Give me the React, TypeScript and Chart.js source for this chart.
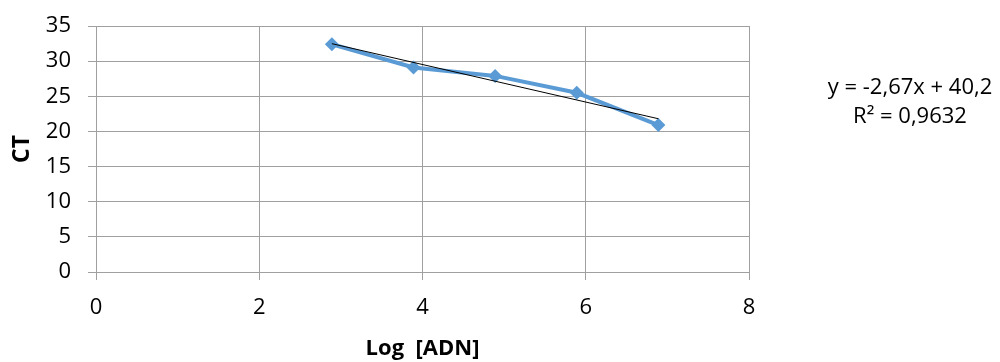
import React, { useEffect, useRef } from "react";
import { Chart, registerables } from "chart.js";

Chart.register(...registerables);

const logADN = [2.89, 3.89, 4.89, 5.89, 6.89];
const ctValues = [32.4, 29.1, 27.9, 25.5, 20.9];
const trendSlope = -2.67;
const trendIntercept = 40.2;
const equationLabel = "y = -2,67x + 40,2";
const r2Label = "R² = 0,9632";
const xTitle = "Log  [ADN]";
const yTitle = "CT";

const FONT = "'Open Sans', 'DejaVu Sans', sans-serif";

const trendPlugin = {
  id: "trendLabel",
  afterDraw(chart: any) {
    const ctx = chart.ctx;
    ctx.save();
    ctx.fillStyle = "#000";
    ctx.font = `22px ${FONT}`;
    ctx.textAlign = "center";
    ctx.textBaseline = "middle";
    ctx.fillText(equationLabel, 910, 88);
    ctx.fillText(r2Label, 910, 117);
    ctx.restore();
  },
};

export default function App() {
  const ref = useRef<HTMLCanvasElement>(null);
  useEffect(() => {
    if (!ref.current) return;
    const x0 = logADN[0];
    const x1 = logADN[logADN.length - 1];
    const chart = new Chart(ref.current, {
      type: "scatter",
      data: {
        datasets: [
          {
            label: "Trend",
            data: [
              { x: x0, y: trendSlope * x0 + trendIntercept },
              { x: x1, y: trendSlope * x1 + trendIntercept },
            ],
            showLine: true,
            borderColor: "#000",
            borderWidth: 1,
            pointRadius: 0,
            order: 0,
          },
          {
            label: "CT",
            data: logADN.map((x, i) => ({ x, y: ctValues[i] })),
            showLine: true,
            borderColor: "#5B9BD5",
            backgroundColor: "#5B9BD5",
            borderWidth: 4,
            pointStyle: "rectRot",
            pointRadius: 7,
            pointBorderWidth: 0,
            order: 1,
          },
        ],
      },
      options: {
        animation: false,
        responsive: false,
        layout: { padding: { top: 26, right: 251, bottom: 0, left: 0 } },
        plugins: { legend: { display: false }, tooltip: { enabled: false } },
        scales: {
          x: {
            type: "linear",
            min: 0,
            max: 8,
            ticks: { stepSize: 2, color: "#000", font: { family: FONT, size: 22 }, padding: 15 },
            grid: { color: "#A0A0A0", tickLength: 8, lineWidth: 1 },
            border: { color: "#A0A0A0" },
            title: { display: true, text: xTitle, color: "#000", font: { family: FONT, size: 22, weight: "bold" }, padding: { top: 4, bottom: 0 } },
            afterFit(scale: any) { scale.height = 90; scale.paddingLeft = 0; scale.paddingRight = 0; },
          },
          y: {
            type: "linear",
            min: 0,
            max: 35,
            ticks: { stepSize: 5, color: "#000", font: { family: FONT, size: 22 }, padding: 17 },
            grid: { color: "#A0A0A0", tickLength: 8, lineWidth: 1 },
            border: { color: "#A0A0A0" },
            title: { display: true, text: yTitle, color: "#000", font: { family: FONT, size: 23, weight: "bold" }, padding: { top: 9, bottom: 4 } },
            afterFit(scale: any) { scale.width = 96; scale.paddingTop = 0; scale.paddingBottom = 0; },
          },
        },
      },
      plugins: [trendPlugin],
    });
    return () => chart.destroy();
  }, []);
  return (
    <div style={{ position: "absolute", left: 0, top: 0, width: 1000, height: 362, background: "#fff" }}>
      <canvas ref={ref} width={1000} height={362} />
    </div>
  );
}
